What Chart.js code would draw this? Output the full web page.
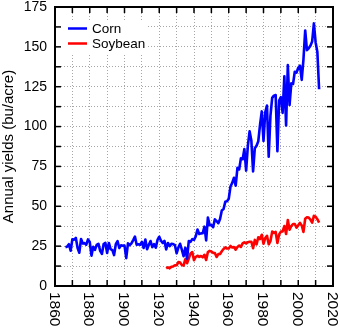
<!DOCTYPE html>
<html>
<head>
<meta charset="utf-8">
<script src="https://cdn.jsdelivr.net/npm/chart.js@4.4.1/dist/chart.umd.min.js"></script>
<style>
  html, body { margin: 0; padding: 0; background: #fff; overflow: hidden; }
  #wrap { width: 340px; height: 328px; position: relative; }
</style>
</head>
<body>
<div id="wrap"><canvas id="c"></canvas></div>
<script>
const FONT = '"Liberation Sans", Arial, Helvetica, sans-serif';

// US annual yields, bushels per acre
const cornStartYear = 1866;
const cornYield = [
  24.3, 24.7, 26.2, 22.1, 29.3, 29.1, 30.2, 23.8, 20.9, 29.5,
  26.7, 26.9, 25.9, 29.2, 27.6, 19.0, 24.6, 22.7, 25.8, 26.5,
  22.0, 20.1, 26.3, 27.0, 20.7, 27.0, 23.1, 22.5, 19.4, 26.2,
  28.2, 23.8, 25.5, 25.3, 25.3, 17.5, 26.8, 25.6, 26.8, 28.8,
  31.0, 25.9, 26.2, 25.9, 27.7, 23.9, 29.2, 23.1, 25.8, 28.2,
  24.4, 26.3, 24.0, 28.9, 30.9, 28.4, 27.0, 28.3, 22.9, 27.0,
  25.0, 26.4, 26.3, 25.7, 20.5, 24.1, 26.5, 22.8, 18.7, 24.0,
  17.0, 28.2, 27.7, 29.4, 28.9, 31.1, 35.4, 32.6, 33.0, 33.1,
  37.2, 28.6, 43.0, 38.2, 38.2, 36.9, 41.8, 40.7, 39.4, 42.0,
  47.4, 48.3, 52.8, 53.1, 54.7, 62.4, 64.7, 67.9, 62.9, 74.1,
  73.1, 80.1, 79.5, 85.9, 72.4, 88.1, 97.0, 91.3, 71.9, 86.4,
  88.0, 90.8, 101.0, 109.5, 91.0, 108.9, 113.2, 81.1, 106.7, 118.0,
  119.4, 119.8, 84.6, 116.3, 118.5, 108.6, 131.5, 100.7, 138.6, 113.5,
  127.1, 126.7, 134.4, 133.8, 136.9, 138.2, 129.3, 142.2, 160.3, 147.9,
  149.1, 150.7, 153.3, 164.7, 152.8, 146.8, 123.4
];

const soyStartYear = 1924;
const soyYield = [
  11.0, 11.7, 11.1, 12.0, 12.3, 13.0, 13.0, 15.0, 14.7, 13.1,
  12.8, 16.8, 14.3, 17.2, 20.4, 21.3, 16.2, 18.2, 19.0, 18.3,
  18.8, 18.0, 19.6, 16.3, 21.3, 22.0, 21.7, 20.8, 20.7, 18.2,
  20.0, 20.1, 21.8, 23.2, 24.2, 23.5, 23.5, 25.1, 24.2, 24.4,
  22.8, 24.5, 25.4, 24.5, 26.7, 27.4, 26.7, 27.5, 27.8, 27.8,
  23.7, 28.9, 26.1, 30.6, 29.4, 32.1, 26.5, 30.1, 31.5, 26.2,
  28.1, 34.1, 33.3, 33.9, 27.0, 32.3, 34.1, 34.2, 37.6, 32.6,
  41.4, 35.3, 37.6, 38.9, 38.9, 36.6, 38.1, 39.6, 38.0, 33.9,
  42.2, 43.1, 42.9, 41.7, 39.7, 44.0, 43.5, 41.9, 39.8
];

const seriesNames = ['Corn', 'Soybean'];
const seriesColors = ['#0000ff', '#ff0000'];
const xTickLabels = [1860, 1880, 1900, 1920, 1940, 1960, 1980, 2000, 2020];
const yTickLabels = [0, 25, 50, 75, 100, 125, 150, 175];

const toPoints = (start, vals) => vals.map((v, i) => ({ x: start + i, y: v }));

// Frame, inward ticks, rotated year labels and the boxed legend
const decorPlugin = {
  id: 'decor',
  afterDatasetsDraw(chart) {
    const { ctx, chartArea: a } = chart;
    ctx.save();
    ctx.fillStyle = '#fff';
    ctx.fillRect(a.left + 2, 20, 90, 35);
    ctx.font = `13.5px ${FONT}`;
    ctx.textAlign = 'left';
    ctx.textBaseline = 'middle';
    seriesNames.forEach((name, i) => {
      const yy = 28.5 + i * 15;
      ctx.strokeStyle = seriesColors[i];
      ctx.lineWidth = 2.5;
      ctx.beginPath();
      ctx.moveTo(a.left + 13, yy);
      ctx.lineTo(a.left + 32, yy);
      ctx.stroke();
      ctx.fillStyle = '#000';
      ctx.fillText(name, a.left + 37, yy + 0.5);
    });
    ctx.restore();
  },
  afterDraw(chart) {
    const { ctx, chartArea: a, scales: { x, y } } = chart;
    ctx.save();
    ctx.strokeStyle = '#000';
    ctx.lineWidth = 1.5;
    const seg = (x1, y1, x2, y2) => { ctx.beginPath(); ctx.moveTo(x1, y1); ctx.lineTo(x2, y2); ctx.stroke(); };
    x.ticks.forEach(t => {
      const px = x.getPixelForValue(t.value);
      seg(px, a.bottom, px, a.bottom - 6);
      seg(px, a.top, px, a.top + 6);
    });
    y.ticks.forEach(t => {
      const py = y.getPixelForValue(t.value);
      seg(a.left, py, a.left + 6, py);
      seg(a.right, py, a.right - 6, py);
    });
    ctx.lineWidth = 2;
    ctx.strokeRect(a.left, a.top, a.right - a.left, a.bottom - a.top);

    ctx.fillStyle = '#000';
    ctx.font = `15.5px ${FONT}`;
    ctx.textAlign = 'left';
    ctx.textBaseline = 'middle';
    xTickLabels.forEach(v => {
      const px = x.getPixelForValue(v);
      ctx.save();
      ctx.translate(px - 1, a.bottom + 6);
      ctx.rotate(Math.PI / 2);
      ctx.fillText(String(v), 0, 0);
      ctx.restore();
    });
    ctx.restore();
  }
};

const gridStyle = { color: '#a6a6a6', lineWidth: 1, drawTicks: false };

new Chart(document.getElementById('c'), {
  type: 'line',
  data: {
    datasets: [
      { label: seriesNames[0], data: toPoints(cornStartYear, cornYield), borderColor: seriesColors[0], borderWidth: 2.6 },
      { label: seriesNames[1], data: toPoints(soyStartYear, soyYield), borderColor: seriesColors[1], borderWidth: 2.6 }
    ]
  },
  options: {
    responsive: true,
    maintainAspectRatio: false,
    animation: false,
    devicePixelRatio: 1,
    layout: { padding: { top: 7, right: 7, left: 0, bottom: 0 } },
    plugins: { legend: { display: false }, tooltip: { enabled: false } },
    elements: { point: { radius: 0 }, line: { tension: 0, borderJoinStyle: 'round' } },
    scales: {
      x: {
        type: 'linear', min: 1860, max: 2020,
        ticks: { display: false, stepSize: 10, autoSkip: false },
        grid: gridStyle,
        border: { display: false, dash: [1, 2] },
        afterFit(s) { s.height = 42; s.paddingLeft = 0; s.paddingRight = 0; }
      },
      y: {
        min: 0, max: 175,
        ticks: {
          stepSize: 12.5, autoSkip: false, padding: 8, color: '#000',
          font: { family: FONT, size: 14 },
          callback: v => (yTickLabels.includes(v) ? String(v) : '')
        },
        grid: gridStyle,
        border: { display: false, dash: [1, 2] },
        title: { display: true, text: 'Annual yields (bu/acre)', color: '#000', font: { family: FONT, size: 15 }, padding: 0 },
        afterFit(s) { s.width = 55; s.paddingTop = 0; s.paddingBottom = 0; }
      }
    }
  },
  plugins: [decorPlugin]
});
</script>
</body>
</html>
